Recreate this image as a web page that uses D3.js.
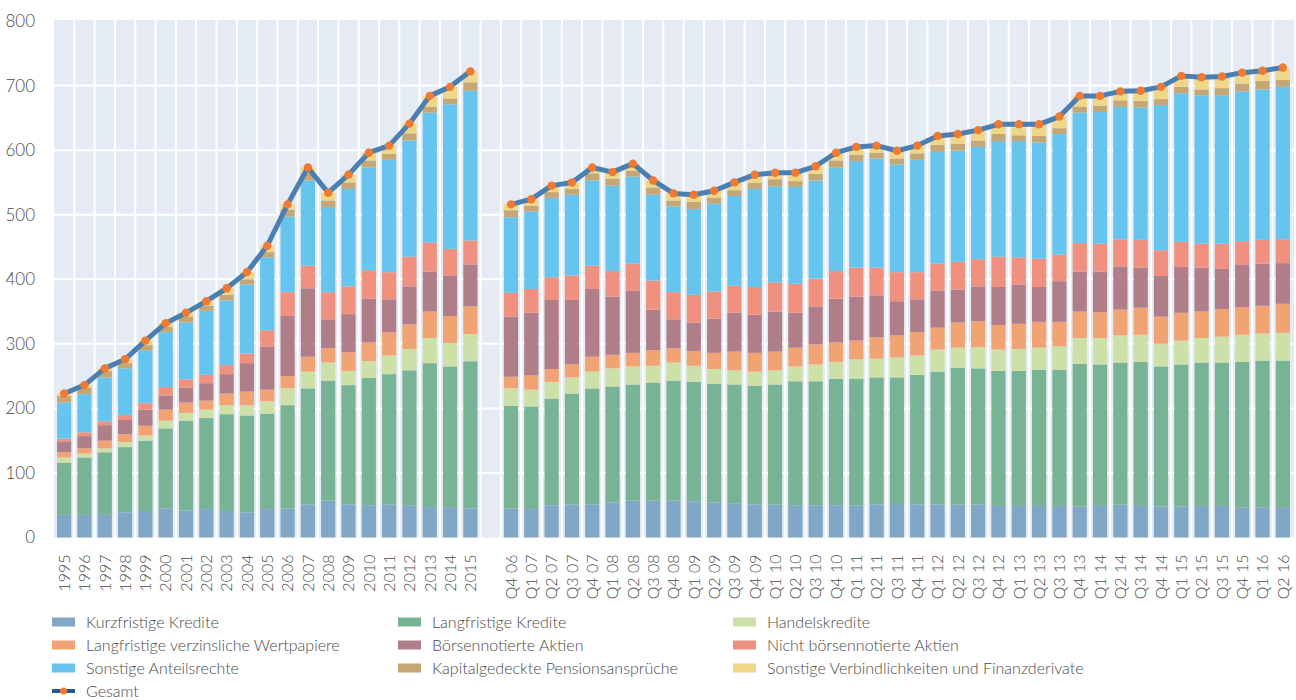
<!DOCTYPE html>
<html>
<head>
<meta charset="utf-8">
<script src="https://cdn.jsdelivr.net/npm/d3@7"></script>
<style>
  body { margin: 0; background: #fff; }
  svg text { font-family: Lato, "Open Sans", sans-serif; font-weight: 300; fill: #4a4a4a; }
</style>
</head>
<body>
<svg id="chart" width="1296" height="700"></svg>
<script>
// categories: annual panel, then quarterly panel
const years = ["1995","1996","1997","1998","1999","2000","2001","2002","2003","2004","2005",
  "2006","2007","2008","2009","2010","2011","2012","2013","2014","2015"];
const quarters = ["Q4 06",
  "Q1 07","Q2 07","Q3 07","Q4 07","Q1 08","Q2 08","Q3 08","Q4 08",
  "Q1 09","Q2 09","Q3 09","Q4 09","Q1 10","Q2 10","Q3 10","Q4 10",
  "Q1 11","Q2 11","Q3 11","Q4 11","Q1 12","Q2 12","Q3 12","Q4 12",
  "Q1 13","Q2 13","Q3 13","Q4 13","Q1 14","Q2 14","Q3 14","Q4 14",
  "Q1 15","Q2 15","Q3 15","Q4 15","Q1 16","Q2 16"];

// series values (21 years followed by 39 quarters)
const kurzfristigeKredite = [35,35,35,39,41,45,42,44,41,39,44,45,51,57,51,50,51,50,47,47,45,
  45,44,50,51,51,54,57,57,57,56,54,53,51,51,50,50,50,50,51,52,51,51,51,51,49,49,49,49,48,49,51,49,48,48,49,49,46,46,47];
const langfristigeKredite = [81,89,97,101,109,124,139,141,150,150,148,160,180,186,185,197,202,209,223,218,228,
  159,159,165,172,180,180,180,183,186,185,184,184,184,186,192,192,196,196,197,196,201,206,212,211,209,209,211,211,221,219,220,223,217,220,222,222,226,228,227];
const handelskredite = [8,6,6,8,8,12,12,13,14,16,19,26,26,28,22,26,29,33,39,36,42,
  27,26,26,25,26,28,28,26,28,25,23,22,22,22,23,26,26,30,29,31,30,34,31,33,33,34,34,36,40,41,42,42,35,37,38,40,42,42,43];
const wertpapiere = [8,8,12,12,15,17,16,14,18,21,18,19,23,22,29,29,36,38,41,42,43,
  18,22,20,20,23,21,21,24,22,23,25,29,29,29,29,31,30,29,33,34,36,34,39,40,38,39,40,38,41,40,40,42,42,43,41,43,43,43,45];
const boersenAktien = [17,19,24,22,25,22,23,27,30,44,67,93,106,45,59,68,51,59,62,63,65,
  93,97,107,100,105,90,96,63,45,44,53,60,59,62,54,59,68,68,65,53,51,57,51,54,59,61,54,63,62,63,67,62,63,71,68,62,65,65,63];
const nichtBoersenAktien = [4,6,6,8,10,13,13,13,14,15,25,37,35,42,43,44,42,46,45,41,37,
  37,37,35,38,36,40,42,45,42,43,42,42,43,45,45,43,43,45,43,45,42,42,43,42,47,42,44,41,44,43,42,43,40,39,37,39,37,37,37];
const anteilsrechte = [56,59,68,72,82,85,88,99,100,107,113,117,132,132,151,159,174,180,201,224,232,
  117,120,123,125,132,132,135,133,133,133,136,139,152,149,150,152,160,165,169,167,174,173,172,174,179,180,180,187,202,204,205,205,225,230,230,230,232,233,236];
const pensionen = [10,10,10,8,8,8,9,8,9,8,8,11,11,10,10,11,9,11,9,9,13,
  11,9,9,9,11,11,9,11,9,11,9,9,9,11,9,10,11,10,9,9,10,11,11,10,11,9,10,9,9,10,10,10,9,10,9,11,12,13,11];
const sonstige = [4,4,4,6,7,6,6,7,10,11,10,8,9,12,12,12,13,15,17,18,17,
  9,10,10,10,9,10,11,11,11,11,11,12,13,10,13,12,12,12,11,12,12,14,15,16,15,17,18,18,17,15,14,16,19,17,19,18,17,16,19];
const gesamtJahre = [223,236,262,276,305,332,348,366,386,411,452,516,573,534,562,596,607,641,684,698,722];
const gesamtQuartale = [516,524,545,550,573,566,579,553,533,531,537,550,562,565,565,575,596,605,607,599,
  607,622,625,631,640,640,640,652,684,684,691,692,698,715,713,714,720,723,728];

const yTicks = [0,100,200,300,400,500,600,700,800];

const series = [
  { key: "Kurzfristige Kredite", values: kurzfristigeKredite, color: "#82a6c6" },
  { key: "Langfristige Kredite", values: langfristigeKredite, color: "#79b396" },
  { key: "Handelskredite", values: handelskredite, color: "#cde0a7" },
  { key: "Langfristige verzinsliche Wertpapiere", values: wertpapiere, color: "#f2a373" },
  { key: "Börsennotierte Aktien", values: boersenAktien, color: "#b07e88" },
  { key: "Nicht börsennotierte Aktien", values: nichtBoersenAktien, color: "#f0917f" },
  { key: "Sonstige Anteilsrechte", values: anteilsrechte, color: "#66c5ee" },
  { key: "Kapitalgedeckte Pensionsansprüche", values: pensionen, color: "#c4a775" },
  { key: "Sonstige Verbindlichkeiten und Finanzderivate", values: sonstige, color: "#f0d687" }
];

const GAP = "__gap__";
const categories = [...years, ...quarters];
const domain = [...years, GAP, ...quarters];

const rows = categories.map((c, i) => {
  const row = { cat: c };
  series.forEach(s => row[s.key] = s.values[i]);
  return row;
});

const svg = d3.select("#chart");
const plot = { left: 54, right: 1293, top: 21, bottom: 537.5 };

const x = d3.scaleBand()
  .domain(domain)
  .range([plot.left, plot.right])
  .paddingInner(0.3)
  .paddingOuter(0.15);

const y = d3.scaleLinear()
  .domain([0, 800])
  .range([plot.bottom, plot.top]);

// background + grid
svg.append("rect")
  .attr("x", plot.left)
  .attr("y", 20)
  .attr("width", plot.right - plot.left + 1)
  .attr("height", plot.bottom - 20)
  .attr("fill", "#e4ebf4");

const step = x.step();
svg.append("g")
  .selectAll("line")
  .data(d3.range(1, domain.length))
  .enter()
  .append("line")
    .attr("x1", i => plot.left + i * step)
    .attr("x2", i => plot.left + i * step)
    .attr("y1", 20)
    .attr("y2", plot.bottom)
    .attr("stroke", "#fff")
    .attr("stroke-width", 2);

svg.append("g")
  .selectAll("line")
  .data(yTicks.filter(t => t > 0 && t < 800))
  .enter()
  .append("line")
    .attr("x1", plot.left)
    .attr("x2", plot.right + 1)
    .attr("y1", d => y(d))
    .attr("y2", d => y(d))
    .attr("stroke", "#fff")
    .attr("stroke-width", 2);

// stacked bars
const stacked = d3.stack().keys(series.map(s => s.key))(rows);

svg.append("g")
  .selectAll("g")
  .data(stacked)
  .enter()
  .append("g")
    .attr("fill", (d, i) => series[i].color)
  .selectAll("rect")
  .data(d => d)
  .enter()
  .append("rect")
    .attr("x", d => x(d.data.cat))
    .attr("width", x.bandwidth())
    .attr("y", d => y(d[1]))
    .attr("height", d => y(d[0]) - y(d[1]));

// Gesamt line, one segment per panel
const line = d3.line()
  .x(d => x(d.cat) + x.bandwidth() / 2)
  .y(d => y(d.v));

const panels = [
  years.map((c, i) => ({ cat: c, v: gesamtJahre[i] })),
  quarters.map((c, i) => ({ cat: c, v: gesamtQuartale[i] }))
];

svg.append("g")
  .selectAll("path")
  .data(panels)
  .enter()
  .append("path")
    .attr("d", line)
    .attr("fill", "none")
    .attr("stroke", "#4c7fb1")
    .attr("stroke-width", 5)
    .attr("stroke-linejoin", "round");

svg.append("g")
  .selectAll("circle")
  .data(panels.flat())
  .enter()
  .append("circle")
    .attr("cx", d => x(d.cat) + x.bandwidth() / 2)
    .attr("cy", d => y(d.v))
    .attr("r", 4.2)
    .attr("fill", "#f07a32");

// axes
const yAxis = svg.append("g")
  .attr("transform", `translate(${plot.left}, 0)`)
  .call(d3.axisLeft(y).tickValues(yTicks).tickSize(0).tickPadding(19));
yAxis.select(".domain").remove();
yAxis.selectAll("text")
  .style("font-size", "17px")
  .style("font-family", null);

const xAxis = svg.append("g")
  .attr("transform", `translate(0, ${plot.bottom})`)
  .call(d3.axisBottom(x).tickValues(categories).tickSize(0));
xAxis.select(".domain").remove();
xAxis.selectAll("text")
  .style("font-size", "16px")
  .style("font-family", null)
  .attr("text-anchor", "end")
  .attr("transform", "translate(0, 17) rotate(-90)")
  .attr("x", 0)
  .attr("y", 0)
  .attr("dy", "0.36em");

// legend
const legendItems = [...series.map(s => ({ key: s.key, color: s.color })), { key: "Gesamt", line: true }];
const colX = [52, 398, 733];
const legend = svg.append("g");

const item = legend.selectAll("g")
  .data(legendItems)
  .enter()
  .append("g")
    .attr("transform", (d, i) => `translate(${colX[i % 3]}, ${622 + Math.floor(i / 3) * 23})`);

item.filter(d => !d.line)
  .append("rect")
    .attr("x", 0)
    .attr("y", -4.5)
    .attr("width", 23)
    .attr("height", 9)
    .attr("fill", d => d.color);

const lineItem = item.filter(d => d.line);
lineItem.append("line")
  .attr("x1", 0).attr("x2", 23)
  .attr("y1", 0).attr("y2", 0)
  .attr("stroke", "#2c5591")
  .attr("stroke-width", 4);
lineItem.append("circle")
  .attr("cx", 11.5).attr("cy", 0).attr("r", 3.5)
  .attr("fill", "#f07a32");

item.append("text")
  .attr("x", 34)
  .attr("y", 0)
  .attr("dy", "0.35em")
  .style("font-size", "16px")
  .text(d => d.key);
</script>
</body>
</html>
